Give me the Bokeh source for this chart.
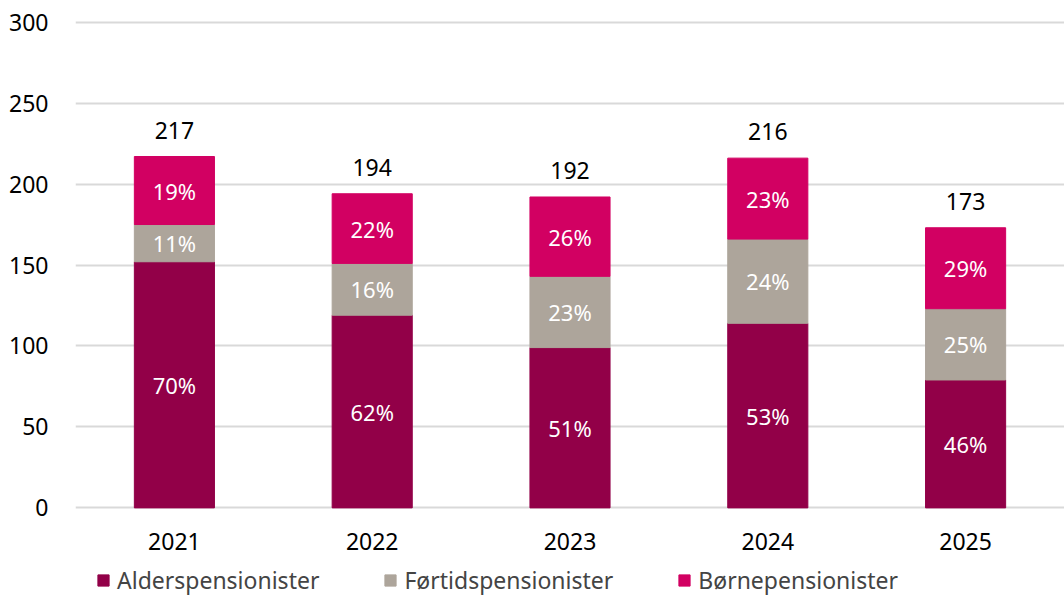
from bokeh.plotting import figure
from bokeh.models import ColumnDataSource, Legend, LegendItem, Range1d, FactorRange
from bokeh.layouts import column
from bokeh.embed import file_html
from bokeh.resources import INLINE
from bokeh.core.properties import value

years = ["2021", "2022", "2023", "2024", "2025"]
alder = [152, 119, 99, 114, 79]
fortid = [23, 32, 44, 52, 44]
borne = [42, 43, 49, 50, 50]
alder_pct = ["70%", "62%", "51%", "53%", "46%"]
fortid_pct = ["11%", "16%", "23%", "24%", "25%"]
borne_pct = ["19%", "22%", "26%", "23%", "29%"]
series = ["Alderspensionister", "Førtidspensionister", "Børnepensionister"]
colors = ["#920048", "#ADA59B", "#D20062"]
yticks = [0, 50, 100, 150, 200, 250, 300]

FONT = "Noto Sans"

totals = [a + f + b for a, f, b in zip(alder, fortid, borne)]
b1 = [a for a in alder]
b2 = [a + f for a, f in zip(alder, fortid)]
src = ColumnDataSource(dict(
    x=years,
    alder=alder, fortid=fortid, borne=borne,
    b1=b1, b2=b2, tot=totals,
    m0=[a / 2 for a in alder],
    m1=[a + f / 2 for a, f in zip(alder, fortid)],
    m2=[s + b / 2 for s, b in zip(b2, borne)],
    p0=alder_pct, p1=fortid_pct, p2=borne_pct,
    tl=[str(t) for t in totals],
))

p = figure(x_range=FactorRange(*years, range_padding=0.0), y_range=Range1d(-1, 301),
           width=1064, height=560, output_backend="svg", toolbar_location=None,
           min_border_left=75, min_border_right=0, min_border_top=20, min_border_bottom=51)
p.outline_line_color = None
p.background_fill_color = "white"

p.vbar(x="x", bottom=0, top="b1", width=0.405, color=colors[0], source=src)
p.vbar(x="x", bottom="b1", top="b2", width=0.405, color=colors[1], source=src)
p.vbar(x="x", bottom="b2", top="tot", width=0.405, color=colors[2], source=src)

for col, ycol in (("p0", "m0"), ("p1", "m1"), ("p2", "m2")):
    p.text(x="x", y=ycol, text=col, source=src, text_color="white",
           text_font=value(FONT), text_font_size="22px",
           text_align="center", text_baseline="middle")
p.text(x="x", y="tot", text="tl", source=src, text_color="black",
       text_font=value(FONT), text_font_size="23px",
       text_align="center", text_baseline="bottom", y_offset=-18)

p.xgrid.grid_line_color = None
p.ygrid.grid_line_color = "#D9D9D9"
p.ygrid.grid_line_width = 2
p.yaxis.ticker = yticks
p.yaxis.axis_line_color = None
p.yaxis.major_tick_line_color = None
p.yaxis.major_tick_out = 0
p.yaxis.major_tick_in = 0
p.yaxis.minor_tick_line_color = None
p.yaxis.major_label_text_font = FONT
p.yaxis.major_label_text_font_size = "23px"
p.yaxis.major_label_text_color = "black"
p.yaxis.major_label_standoff = 27
p.xaxis.axis_line_color = None
p.xaxis.major_tick_line_color = None
p.xaxis.major_tick_out = 0
p.xaxis.major_tick_in = 0
p.xaxis.major_label_text_font = FONT
p.xaxis.major_label_text_font_size = "23px"
p.xaxis.major_label_text_color = "black"
p.xaxis.major_label_standoff = 23

# legend strip (legend swatch renderers sit outside the visible range)
lg = figure(x_range=Range1d(0, 1), y_range=Range1d(0, 1), width=1064, height=36,
            output_backend="svg", toolbar_location=None,
            min_border_left=0, min_border_right=0, min_border_top=0, min_border_bottom=0)
lg.axis.visible = False
lg.grid.visible = False
lg.outline_line_color = None
swatch = ColumnDataSource(dict(x=[-5], top=[-5]))
rs = [lg.vbar(x="x", top="top", bottom=-6, width=1, color=c, source=swatch) for c in colors]
legend = Legend(items=[LegendItem(label=s, renderers=[r]) for s, r in zip(series, rs)],
                orientation="horizontal", location=(21, 0),
                label_text_font=FONT, label_text_font_size="23px",
                glyph_width=14, glyph_height=14, label_standoff=7, spacing=64,
                border_line_color=None, background_fill_alpha=0,
                padding=0, margin=0)
lg.add_layout(legend, "center")

open("out.html", "w").write(file_html(column(p, lg, spacing=0), INLINE))
